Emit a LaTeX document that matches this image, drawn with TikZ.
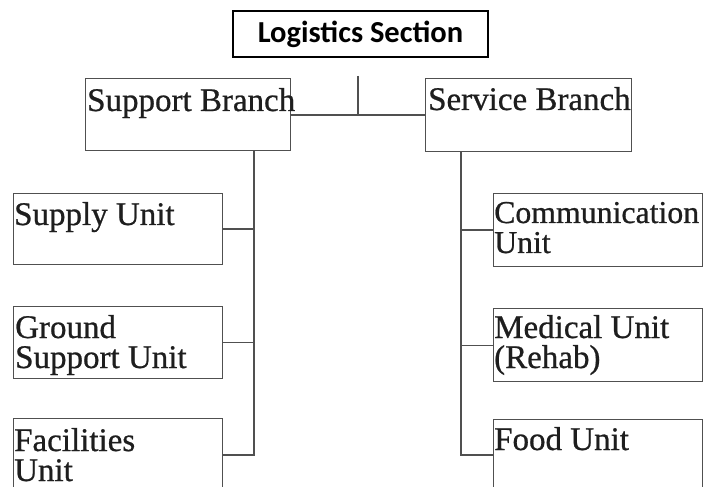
\documentclass[tikz,border=0pt]{standalone}
\usepackage{fontspec}
\usetikzlibrary{calc}
\setmainfont{Liberation Serif}[FakeBold=0.7]
\newfontfamily\titlefont{Carlito}
\definecolor{ink}{HTML}{1E1E1E}
\definecolor{edge}{HTML}{505050}
\tikzset{
  unitbox/.style={draw=edge, line width=1.3bp, rectangle, inner sep=0pt, anchor=north west},
  unitlbl/.style={anchor=base west, inner sep=0pt, text=ink, align=left,
    font=\fontsize{33bp}{30bp}\selectfont},
  wire/.style={draw=edge, line width=1.3bp},
  titlebox/.style={draw=black, line width=2.2bp, rectangle, inner sep=0pt,
    minimum width=255bp, minimum height=46bp, font=\titlefont\bfseries\fontsize{30.5bp}{32bp}\selectfont}
}
\begin{document}
\begin{tikzpicture}[x=1bp,y=-1bp]
\useasboundingbox (0,0) rectangle (704,487);
\clip (0,0) rectangle (704,487);
\fill[white] (0,0) rectangle (704,487);

\node[titlebox] (title) at (360.5,34) {Logistics Section};

% branch boxes
\node[unitbox, minimum width=205bp, minimum height=72bp] (sup) at (85,78) {};
\node[unitbox, minimum width=206bp, minimum height=73bp] (ser) at (425,78) {};
% left units
\node[unitbox, minimum width=209bp, minimum height=71bp] (supply) at (13,193) {};
\node[unitbox, minimum width=209bp, minimum height=72bp] (ground) at (13,306) {};
\node[unitbox, minimum width=209bp, minimum height=90bp] (facil) at (13,418) {};
% right units
\node[unitbox, minimum width=209bp, minimum height=73bp] (comm) at (493,193) {};
\node[unitbox, minimum width=209bp, minimum height=73bp] (med) at (493,308) {};
\node[unitbox, minimum width=209bp, minimum height=90bp] (food) at (493,419) {};

% labels (multi-line: base = last line)
\node[unitlbl] (supT) at ($(sup.north west)+(2,33)$) {Support Branch};
\node[unitlbl] (serT) at ($(ser.north west)+(3,32)$) {Service Branch};
\node[unitlbl] (supplyT) at ($(supply.north west)+(1,32)$) {Supply Unit};
\node[unitlbl] (groundT) at ($(ground.north west)+(2,62)$) {Ground\\Support Unit};
\node[unitlbl] (facilT) at ($(facil.north west)+(1,63)$) {Facilities\\Unit};
\node[unitlbl, font=\fontsize{31.8bp}{30bp}\selectfont] (commT) at ($(comm.north west)+(1,60)$) {Communication\\Unit};
\node[unitlbl] (medT) at ($(med.north west)+(1,60)$) {Medical Unit\\(Rehab)};
\node[unitlbl] (foodT) at ($(food.north west)+(1,31)$) {Food Unit};

% connectors
\coordinate (top) at (358,76);
\coordinate (ls) at (254,0);
\coordinate (rs) at (461,0);
\coordinate (lend) at (254,455);
\coordinate (rend) at (461,455);

\draw[wire] (sup.east |- 0,115) -- (ser.west |- 0,115);
\draw[wire] (top) -- (top |- 0,115);

\draw[wire] (ls |- sup.south) -- (lend) -- (lend -| facil.east);
\draw[wire] (supply.east) -- (supply.east -| ls);
\draw[wire] (ground.east) -- (ground.east -| ls);

\draw[wire] (rs |- ser.south) -- (rend) -- (rend -| food.west);
\draw[wire] (comm.west) -- (comm.west -| rs);
\draw[wire] (med.west) -- (med.west -| rs);
\end{tikzpicture}
\end{document}
